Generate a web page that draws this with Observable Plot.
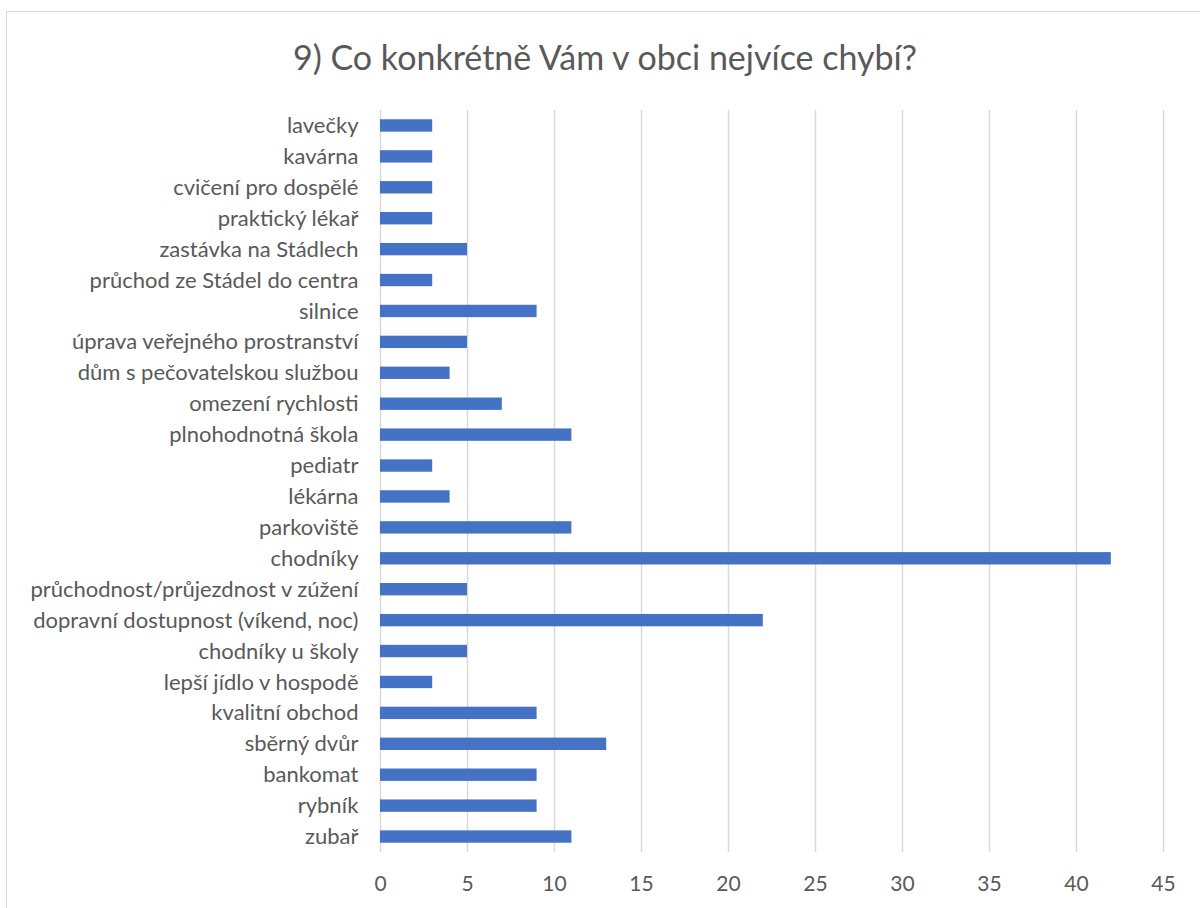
<!DOCTYPE html>
<html>
<head>
<meta charset="utf-8">
<script src="https://cdn.jsdelivr.net/npm/d3@7"></script>
<script src="https://cdn.jsdelivr.net/npm/@observablehq/plot@0.6"></script>
<style>
  html, body { margin: 0; padding: 0; background: #fff; }
  #wrap { position: relative; width: 1200px; height: 908px; overflow: hidden; font-family: Lato, "Open Sans", sans-serif; }
  #frame { position: absolute; left: 6px; top: 11px; width: 1400px; height: 1200px; border-left: 1px solid #d9d9d9; border-top: 1px solid #d9d9d9; box-sizing: border-box; }
  #title { position: absolute; left: 0; top: 35px; width: 1210px; text-align: center; font-size: 34px; line-height: 44px; color: #595959; font-family: Lato, "Open Sans", sans-serif; }
  #chart { position: absolute; left: 0; top: 100px; }
</style>
</head>
<body>
<div id="wrap">
  <div id="frame"></div>
  <div id="title">9) Co konkrétně Vám v obci nejvíce chybí?</div>
  <div id="chart"></div>
</div>
<script>
const categories = [
  "lavečky",
  "kavárna",
  "cvičení pro dospělé",
  "praktický lékař",
  "zastávka na Stádlech",
  "průchod ze Stádel do centra",
  "silnice",
  "úprava veřejného prostranství",
  "dům s pečovatelskou službou",
  "omezení rychlosti",
  "plnohodnotná škola",
  "pediatr",
  "lékárna",
  "parkoviště",
  "chodníky",
  "průchodnost/průjezdnost v zúžení",
  "dopravní dostupnost (víkend, noc)",
  "chodníky u školy",
  "lepší jídlo v hospodě",
  "kvalitní obchod",
  "sběrný dvůr",
  "bankomat",
  "rybník",
  "zubař"
];
const counts = [3, 3, 3, 3, 5, 3, 9, 5, 4, 7, 11, 3, 4, 11, 42, 5, 22, 5, 3, 9, 13, 9, 9, 11];
const xTicks = [0, 5, 10, 15, 20, 25, 30, 35, 40, 45];

const data = categories.map((c, i) => ({category: c, value: counts[i]}));

const chart = Plot.plot({
  width: 1200,
  height: 808,
  marginLeft: 380,
  marginRight: 37,
  marginTop: 10,
  marginBottom: 56,
  style: {fontFamily: "Lato, 'Open Sans', sans-serif", color: "#595959", background: "transparent"},
  x: {domain: [0, 45], ticks: xTicks},
  y: {domain: categories, paddingInner: 0.6, paddingOuter: 0.3, round: false},
  marks: [
    Plot.ruleX(xTicks, {stroke: "#d9d9d9", strokeWidth: 1.5}),
    Plot.barX(data, {y: "category", x: "value", fill: "#4472c4"}),
    Plot.axisX({ticks: xTicks, tickSize: 0, tickPadding: 24, fontSize: 21, label: null, tickFormat: d => String(d)}),
    Plot.axisY({tickSize: 0, tickPadding: 22, fontSize: 22, label: null})
  ]
});
document.getElementById("chart").appendChild(chart);
</script>
</body>
</html>
